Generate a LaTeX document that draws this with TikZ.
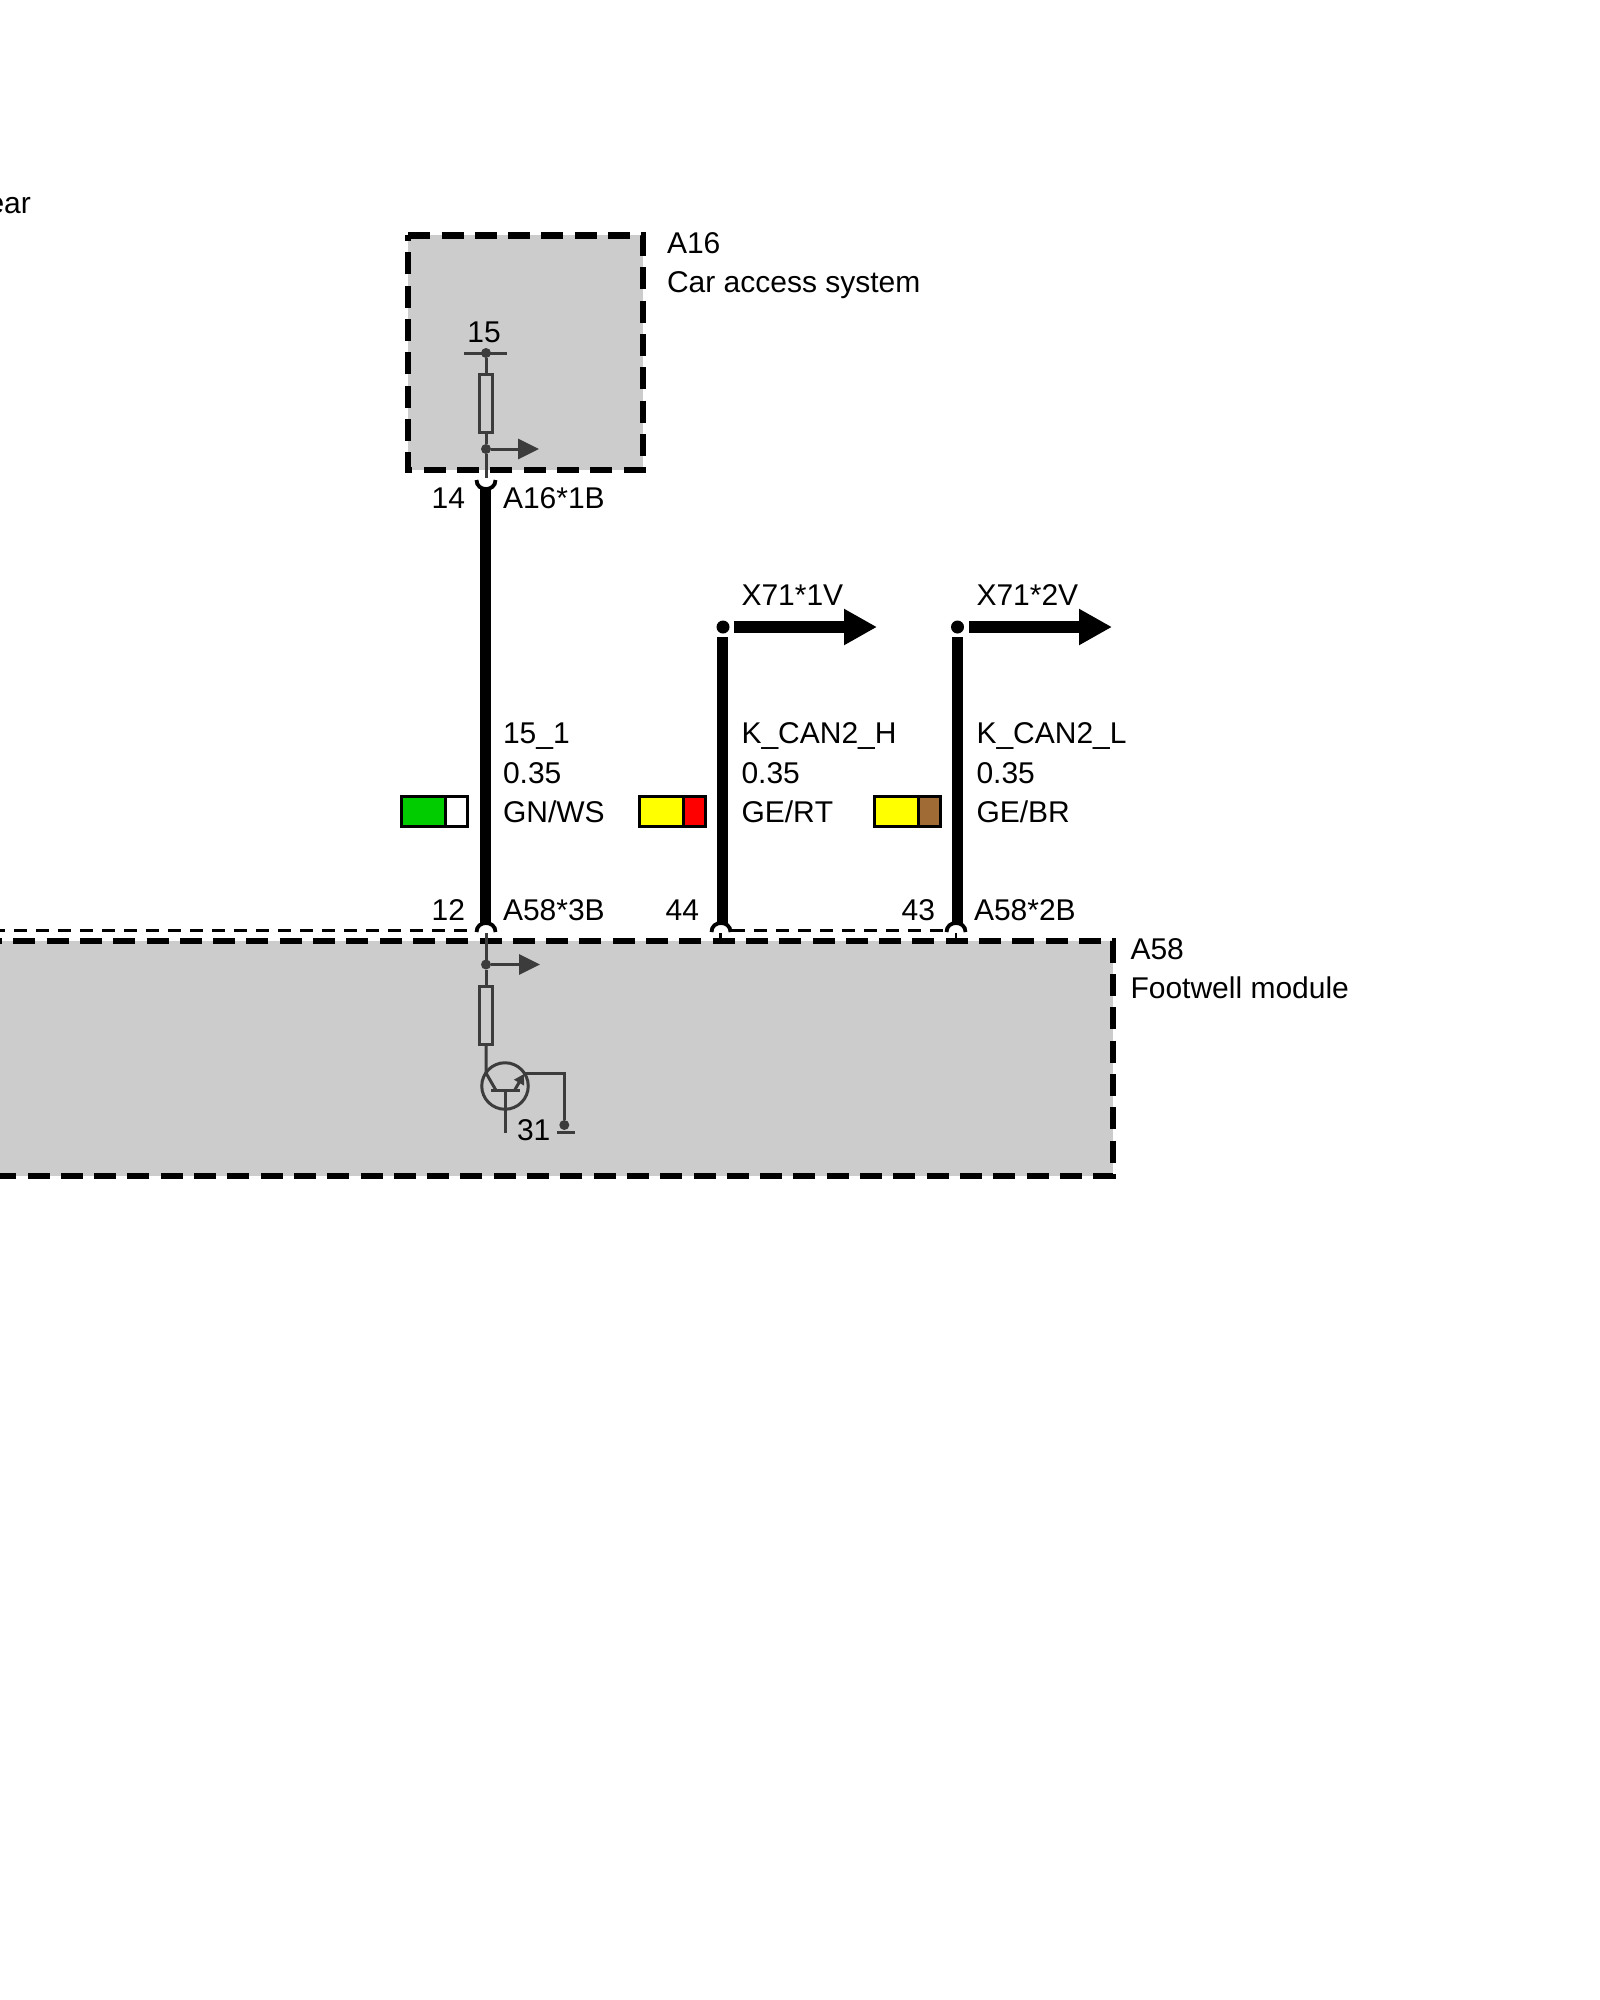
\documentclass[tikz,border=0pt]{standalone}
\usepackage{fontspec}
\setmainfont[Kerning=Off]{Liberation Sans}
\definecolor{modgray}{HTML}{CCCCCC}
\definecolor{ink}{HTML}{3C3C3C}
\definecolor{wgreen}{HTML}{00CC00}
\definecolor{wyellow}{HTML}{FFFF00}
\definecolor{wred}{HTML}{FF0000}
\definecolor{wbrown}{HTML}{A06B34}
\usetikzlibrary{arrows.meta}
\tikzset{
  lab/.style={anchor=base west,inner sep=0pt,outer sep=0pt,font=\fontsize{30}{36}\selectfont},
  labr/.style={lab,anchor=base east},
  module/.style={fill=modgray,inner sep=0pt,outer sep=0pt},
  modline/.style={draw=black,line width=6.2pt,dash pattern=on 22pt off 11.3pt},
  wire/.style={line width=11.5pt,draw=black},
  cup/.style={line width=3.8pt,draw=black},
  thinwire/.style={line width=3pt,draw=ink},
  stub/.style={line width=2.2pt,draw=black},
  link/.style={line width=2.8pt,dash pattern=on 13pt off 9pt,draw=black},
  res/.style={draw=ink,line width=3pt,fill=modgray,inner sep=0pt,outer sep=0pt,minimum width=13pt,minimum height=58pt},
  dotg/.style={circle,fill=ink,inner sep=0pt,outer sep=0pt,minimum size=10pt},
  dotb/.style={circle,fill=black,inner sep=0pt,outer sep=0pt,minimum size=13pt},
  sigarrow/.style={thinwire,-{Triangle[length=21pt,width=20pt]}},
  busarrow/.style={wire,-{Triangle[length=33pt,width=34pt]}},
  colbox/.style={draw=black,line width=3pt,inner sep=0pt,outer sep=0pt,minimum height=30pt}
}
\begin{document}
\begin{tikzpicture}[x=1pt,y=-1pt]
  \useasboundingbox (0,0) rectangle (1600,2000);

  \node[module,minimum width=234.5pt,minimum height=234.5pt] (A16) at (525.5,352.7) {};
  \node[module,minimum width=1132.7pt,minimum height=235pt] (A58) at (546.35,1058.7) {};
  \draw[modline] (A16.north west) -- (A16.north east) -- (A16.south east) -- (A16.south west) -- cycle;
  \draw[modline] (A58.north west) -- (A58.north east) -- (A58.south east) -- (A58.south west) -- cycle;

  \draw (-12.5,213) node[lab] (gear) {ear};
  \draw (667,253) node[lab] (A16name) {A16};
  \draw (667,292.5) node[lab] (A16text) {Car access system};
  \draw (1130.5,959) node[lab] (A58name) {A58};
  \draw (1130.5,998) node[lab] (A58text) {Footwell module};

  \draw (484,342.7) node[lab,anchor=base] (t15) {15};
  \draw (465,508) node[labr] (p14) {14};
  \draw (503,508) node[lab] (A161B) {A16*1B};
  \draw (465,920.5) node[labr] (p12) {12};
  \draw (503,920.5) node[lab] (A583B) {A58*3B};
  \draw (699,920.5) node[labr] (p44) {44};
  \draw (935,920.5) node[labr] (p43) {43};
  \draw (974,920.5) node[lab] (A582B) {A58*2B};
  \draw (517,1140) node[lab] (t31) {31};

  \draw (503,743) node[lab] (sig1) {15\_1};
  \draw (503,783) node[lab] (size1) {0.35};
  \draw (503,822) node[lab] (col1) {GN/WS};
  \draw (741.5,743) node[lab] (sig2) {K\_CAN2\_H};
  \draw (741.5,783) node[lab] (size2) {0.35};
  \draw (741.5,822) node[lab] (col2) {GE/RT};
  \draw (976.5,743) node[lab] (sig3) {K\_CAN2\_L};
  \draw (976.5,783) node[lab] (size3) {0.35};
  \draw (976.5,822) node[lab] (col3) {GE/BR};
  \draw (741.5,605) node[lab] (X711V) {X71*1V};
  \draw (976.5,605) node[lab] (X712V) {X71*2V};

  \node[colbox,fill=wgreen,minimum width=45pt] (gn) at (423.5,811.5) {};
  \node[colbox,fill=white,minimum width=22pt] (ws) at (456.5,811.5) {};
  \node[colbox,fill=wyellow,minimum width=45pt] (ge1) at (661.5,811.5) {};
  \node[colbox,fill=wred,minimum width=22pt] (rt) at (694.5,811.5) {};
  \node[colbox,fill=wyellow,minimum width=45pt] (ge2) at (896.5,811.5) {};
  \node[colbox,fill=wbrown,minimum width=22pt] (br) at (929.5,811.5) {};

  % car access system
  \coordinate (b15l) at (464,353);
  \coordinate (b15r) at (507,353);
  \node[dotg] (d15) at (486,353) {};
  \node[res] (R16) at (486,403) {};
  \node[dotg] (d16) at (486,449) {};
  \coordinate (a16) at (539,449);
  \coordinate (s14) at (486,478);
  \draw[thinwire] (b15l) -- (b15r);
  \draw[thinwire] (d15) -- (R16);
  \draw[thinwire] (R16) -- (d16);
  \draw[thinwire] (d16) -- (s14);
  \draw[sigarrow] (d16) -- (a16);

  % wires
  \coordinate (w14) at (485.5,488);
  \coordinate (w12) at (485.5,925);
  \coordinate (cl14) at (476.5,480);
  \coordinate (cr14) at (495.5,480);
  \draw[wire] (w14) -- (w12);
  \draw[cup] (cl14) .. controls (476.5,492) and (495.5,492) .. (cr14);

  \node[dotb] (j1) at (723,627) {};
  \node[dotb] (j2) at (957.5,627) {};
  \coordinate (w1t) at (722.5,637);
  \coordinate (w1b) at (722.5,925);
  \coordinate (w2t) at (957.5,637);
  \coordinate (w2b) at (957.5,925);
  \coordinate (h1s) at (734,627);
  \coordinate (h1e) at (877,627);
  \coordinate (h2s) at (969,627);
  \coordinate (h2e) at (1112,627);
  \draw[wire] (w1t) -- (w1b);
  \draw[wire] (w2t) -- (w2b);
  \draw[busarrow] (h1s) -- (h1e);
  \draw[busarrow] (h2s) -- (h2e);

  % pins on the footwell module
  \coordinate (al12) at (476.5,932);
  \coordinate (ar12) at (495.5,932);
  \coordinate (al44) at (711.5,932);
  \coordinate (ar44) at (730.5,932);
  \coordinate (al43) at (946.5,932);
  \coordinate (ar43) at (965.5,932);
  \draw[cup] (al12) .. controls (476.5,920) and (495.5,920) .. (ar12);
  \draw[cup] (al44) .. controls (711.5,920) and (730.5,920) .. (ar44);
  \draw[cup] (al43) .. controls (946.5,920) and (965.5,920) .. (ar43);
  \coordinate (ls) at (-8,930.5);
  \coordinate (le) at (474,930.5);
  \coordinate (ms) at (732,930.5);
  \coordinate (me) at (946,930.5);
  \draw[link] (ls) -- (le);
  \draw[link] (ms) -- (me);
  \coordinate (t44a) at (720.5,933);
  \coordinate (t44b) at (720.5,941);
  \coordinate (t43a) at (956,933);
  \coordinate (t43b) at (956,941);
  \draw[stub] (t44a) -- (t44b);
  \draw[stub] (t43a) -- (t43b);

  % footwell module
  \coordinate (s12) at (486,933);
  \node[dotg] (d58) at (486,964.5) {};
  \coordinate (a58) at (540,964.5);
  \node[res] (R58) at (486,1015) {};
  \coordinate (c1) at (486,1073);
  \coordinate (c2) at (495.5,1089.5);
  \coordinate (bl) at (491,1090);
  \coordinate (br2) at (520,1090);
  \coordinate (bt) at (505.5,1090);
  \coordinate (bb) at (505.5,1133);
  \coordinate (e1) at (515,1089.5);
  \coordinate (e2) at (524,1074);
  \coordinate (g1) at (524,1073);
  \coordinate (g2) at (564.3,1073);
  \node[dotg] (dgnd) at (564.3,1125) {};
  \coordinate (gl) at (557,1132);
  \coordinate (gr) at (574.5,1132);
  \node[circle,draw=ink,line width=3pt,inner sep=0pt,outer sep=0pt,minimum size=46.5pt] (T1) at (505,1086) {};
  \draw[thinwire] (s12) -- (d58);
  \draw[thinwire] (d58) -- (R58);
  \draw[thinwire] (R58) -- (c1) -- (c2);
  \draw[sigarrow] (d58) -- (a58);
  \draw[thinwire] (bl) -- (br2);
  \draw[thinwire] (bt) -- (bb);
  \draw[thinwire,-{Triangle[length=10pt,width=11pt]}] (e1) -- (e2);
  \draw[thinwire] (g1) -- (g2) -- (dgnd);
  \draw[thinwire] (gl) -- (gr);
\end{tikzpicture}
\end{document}
